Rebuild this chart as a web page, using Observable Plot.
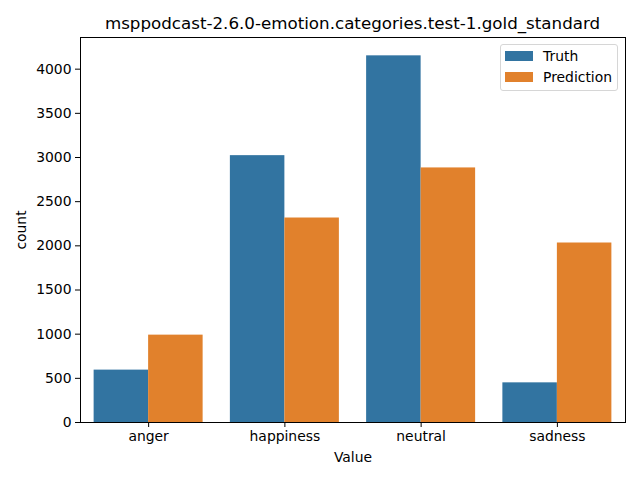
<!DOCTYPE html>
<html><head><meta charset="utf-8">
<script src="https://cdn.jsdelivr.net/npm/d3@7"></script>
<script src="https://cdn.jsdelivr.net/npm/@observablehq/plot@0.6"></script>
<style>
body{margin:0;background:#fff;font-family:"DejaVu Sans",sans-serif;}
#wrap{position:relative;width:640px;height:480px;overflow:hidden;}
#title{position:absolute;left:80px;width:545px;top:13px;text-align:center;font-size:16.7px;line-height:20px;color:#000;white-space:nowrap;}
#legend{position:absolute;left:500px;top:44px;width:118px;height:47px;border:1px solid #d6d6d6;border-radius:3px;background:rgba(255,255,255,0.8);box-sizing:border-box;font-size:13.9px;color:#000;}
.row{position:absolute;left:4px;height:20px;display:flex;align-items:center;}
.sw{width:28px;height:10px;margin-right:10px;}
</style>
</head><body>
<div id="wrap"><div id="chart"></div><div id="title"></div><div id="legend"></div></div>
<script>
const titleText = "msppodcast-2.6.0-emotion.categories.test-1.gold_standard";
const categories = ["anger", "happiness", "neutral", "sadness"];
const series = ["Truth", "Prediction"];
const truth = [593, 3021, 4151, 449];
const prediction = [989, 2315, 2882, 2032];
const yTicks = [0, 500, 1000, 1500, 2000, 2500, 3000, 3500, 4000];
const colors = ["#3274a1", "#e1812c"];

const rows = categories.flatMap((c, i) => series.map((s, j) => ({
  category: c, idx: i, series: s, sIdx: j, count: (j === 0 ? truth : prediction)[i]
})));
const ymax = Math.max(...truth, ...prediction) * 1.05;

const chart = Plot.plot({
  width: 640, height: 480,
  marginLeft: 80, marginRight: 15, marginTop: 37, marginBottom: 58,
  style: {fontFamily: "DejaVu Sans", fontSize: "13.9px", color: "#000", background: "#fff"},
  x: {domain: [-0.5, categories.length - 0.5], ticks: categories.map((_, i) => i), tickFormat: i => categories[i],
      tickSize: 5, label: "Value", labelAnchor: "center", labelOffset: 39, labelArrow: "none"},
  y: {domain: [0, ymax], ticks: yTicks, tickFormat: d => String(d), tickSize: 5,
      label: "count", labelAnchor: "center", labelOffset: 64, labelArrow: "none"},
  color: {domain: series, range: colors},
  marks: [
    Plot.rectY(rows, {x1: d => d.idx - 0.4 + 0.4 * d.sIdx, x2: d => d.idx + 0.4 * d.sIdx, y: "count", fill: "series"}),
    Plot.frame({stroke: "#000", strokeWidth: 1})
  ]
});
document.getElementById("chart").appendChild(chart);
document.getElementById("title").textContent = titleText;
const leg = document.getElementById("legend");
series.forEach((s, j) => {
  const r = document.createElement("div");
  r.className = "row";
  r.style.top = (1 + j * 21) + "px";
  r.innerHTML = `<div class="sw" style="background:${colors[j]}"></div><span>${s}</span>`;
  leg.appendChild(r);
});
</script>
</body></html>
